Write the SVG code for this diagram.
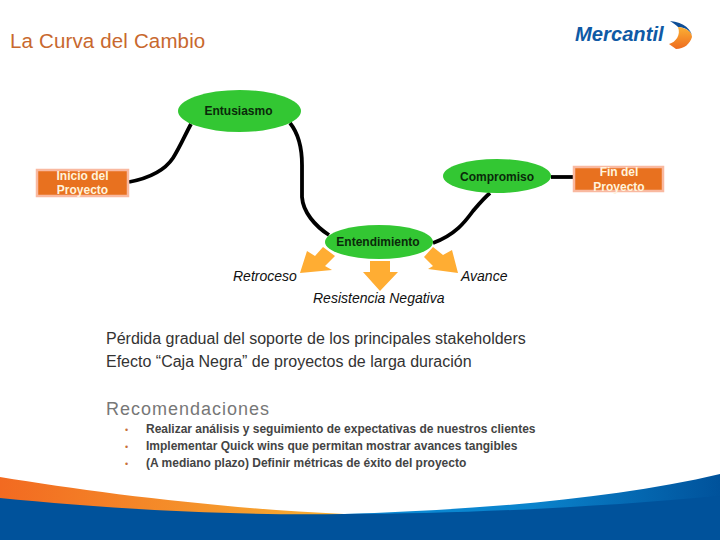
<svg xmlns="http://www.w3.org/2000/svg" width="720" height="540" viewBox="0 0 720 540">
<style>
text{font-family:"Liberation Sans",Arial,sans-serif}
.oval{fill:#33C733}
.ovt{font-size:12px;font-weight:bold;fill:#0A2A0A;text-anchor:middle}
.box{fill:#E8711F;stroke:#F9B9A0;stroke-width:2.5}
.bxt{font-size:12px;font-weight:bold;fill:#FFF3DC;text-anchor:middle}
.it{font-size:14px;font-style:italic;fill:#111}
.body{font-size:16px;fill:#333}
.li{font-size:12px;font-weight:bold;fill:#444}
.bul{font-size:9px;fill:#C8703A}
.con{fill:none;stroke:#000;stroke-width:3.8;stroke-linecap:butt}
.arr{fill:#FFAD33}
</style>
<defs>
<linearGradient id="og" x1="0" x2="1" y1="0" y2="0"><stop offset="0" stop-color="#F26A21"/><stop offset="1" stop-color="#F7B032"/></linearGradient>
<linearGradient id="bg" x1="0" x2="1" y1="0" y2="0"><stop offset="0" stop-color="#0A8BD6"/><stop offset="0.5" stop-color="#0A83CC"/><stop offset="1" stop-color="#00529B"/></linearGradient>
<linearGradient id="lg" x1="0" x2="0" y1="0" y2="1"><stop offset="0" stop-color="#FBB034"/><stop offset="1" stop-color="#EE6B1F"/></linearGradient>
</defs>

<g id="footer">
<path d="M0 477C92 492 215 508 344 514L344 520L0 520Z" fill="url(#og)"/>
<path d="M344 514C470 510 610 500 720 474L720 520L344 520Z" fill="url(#bg)"/>
<path d="M0 498C92 507 215 516 344 514C470 514 610 506 720 496L720 540L0 540Z" fill="#00529B"/>
</g>

<text x="10" y="48" font-size="20.500" letter-spacing="0.150" fill="#C8682E">La Curva del Cambio</text>

<g id="logo">
<text x="575" y="41" font-size="20.200" font-weight="bold" font-style="italic" fill="#0F5AA5">Mercantil</text>
<path d="M670 21C684 22 692 30 692 37C692 31 684 27 678 27C676 25 673 23 670 21Z" fill="#0F4E96"/>
<path d="M678 27C688 28 692 33 692 37C690 44 684 49 676 49L669 44C676 42 681 35 678 27Z" fill="url(#lg)"/>
</g>

<g id="connectors">
<path class="con" d="M129 182C150 178 165 170 173 158C180 147 185 135 191 124"/>
<path class="con" d="M290 123C298 133 302 147 302 165L302 197C303 212 315 226 329 235"/>
<path class="con" d="M433 243C455 235 465 222 473 211C479 204 484 198 490 193"/>
<path class="con" d="M551 177L573 177"/>
</g>

<g id="inicio">
<rect class="box" x="37" y="170" width="91" height="26"/>
<text class="bxt" x="82.500" y="180">Inicio del</text>
<text class="bxt" x="82.500" y="194">Proyecto</text>
</g>
<g id="entusiasmo">
<ellipse class="oval" cx="239.500" cy="111" rx="61.500" ry="21"/>
<text class="ovt" x="238.500" y="115">Entusiasmo</text>
</g>
<g id="compromiso">
<ellipse class="oval" cx="497" cy="176" rx="54" ry="17"/>
<text class="ovt" x="497" y="181">Compromiso</text>
</g>
<g id="fin">
<rect class="box" x="574" y="167" width="89" height="24"/>
<text class="bxt" x="619" y="176">Fin del</text>
<text class="bxt" x="619" y="191">Proyecto</text>
</g>
<g id="entendimiento">
<ellipse class="oval" cx="379" cy="242" rx="54" ry="17"/>
<text class="ovt" x="378" y="246">Entendimiento</text>
</g>

<g id="arrows">
<path class="arr" d="M300 273L307 251L315 256L323 247L335 256L325 266L332 270Z"/>
<path class="arr" d="M370 261L390 261L390 272L398 272L380 291L363 272L370 272Z"/>
<path class="arr" d="M458 273L452 250L443 255L433 247L424 257L433 266L428 269Z"/>
</g>

<text class="it" x="233" y="281">Retroceso</text>
<text class="it" x="461" y="281">Avance</text>
<text class="it" x="313" y="303">Resistencia Negativa</text>

<text class="body" x="106" y="344">Pérdida gradual del soporte de los principales stakeholders</text>
<text class="body" x="106" y="367">Efecto “Caja Negra” de proyectos de larga duración</text>

<text x="106" y="415" font-size="18" fill="#777" letter-spacing="1">Recomendaciones</text>
<text class="bul" x="125" y="433">•</text>
<text class="bul" x="125" y="450">•</text>
<text class="bul" x="125" y="467">•</text>
<text class="li" x="146" y="433">Realizar análisis y seguimiento de expectativas de nuestros clientes</text>
<text class="li" x="146" y="450">Implementar Quick wins que permitan mostrar avances tangibles</text>
<text class="li" x="146" y="467">(A mediano plazo) Definir métricas de éxito del proyecto</text>
</svg>
